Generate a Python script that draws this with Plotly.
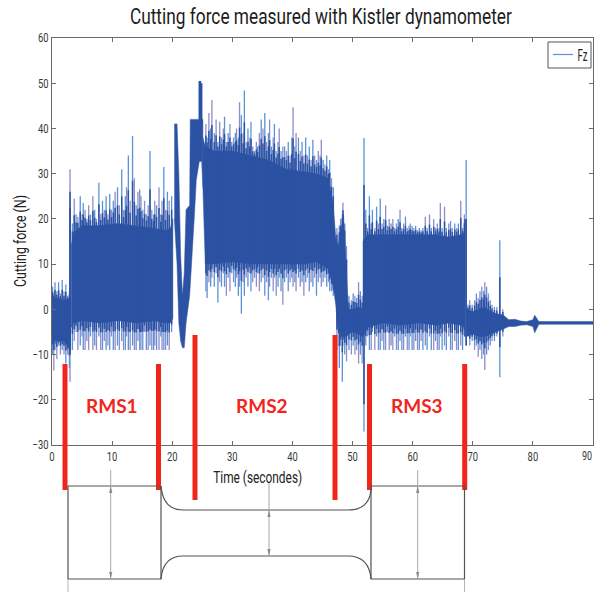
import json
import numpy as np
import plotly.graph_objects as go

W, H = 595, 592
L, R, T, B = 52, 593, 38, 445

TITLE = "Cutting force measured with Kistler dynamometer"
XLAB = "Time (secondes)"
YLAB = "Cutting force (N)"
X_TICKS = [0, 10, 20, 30, 40, 50, 60, 70, 80, 90]
X_LABELS = ["0", "10", "20", "30", "40", "50", "60", "70", "80", ""]
Y_TICKS = [-30, -20, -10, 0, 10, 20, 30, 40, 50, 60]

# Dense core of the signal (t, upper, lower), one block per region
core_a_t = [0, 1, 2, 3.1]
core_a_hi = [2.5, 2.5, 2, 2.5]
core_a_lo = [-6.5, -7, -7, -9]

core_b_t = [3.2, 3.6, 5, 8, 11, 14, 17, 19, 19.7, 20.1]
core_b_hi = [14, 17, 18.5, 18.5, 19, 18.5, 18, 17.5, 18, 20]
core_b_lo = [-4, -3, -2.5, -3, -2.5, -3, -2.5, -3, -3, -2]

core_c_t = [20.35, 20.8, 21.1, 21.4, 21.7, 22.0, 22.3, 22.9, 23.0, 23.7, 24.0, 24.5, 24.9, 25.1]
core_c_hi = [41, 41, 30, 12, 3, 8, 22, 23, 42, 42, 42, 42, 42, 42]
core_c_lo = [20, 10, -3, -7, -8.5, -8.5, -3, 3, 3.8, 21, 28.6, 32.7, 32.7, 27]

core_d_t = [25.1, 25.5, 27, 30, 33, 36, 39, 42, 44, 46, 46.8, 47.2, 47.6, 48.0, 48.5, 49.0, 49.3, 50, 51, 51.7]
core_d_hi = [38, 36, 35, 35, 34, 33, 31, 30.5, 30, 29, 23, 16, 14, 17, 21, 8, 0, 0, 0.5, 0]
core_d_lo = [27, 10, 10, 10.5, 10, 10, 10, 10, 10.5, 9, 5, 1, -5, -6, -6, -6, -5.5, -5, -5.5, -6]

core_e_t = [51.7, 52.5, 55, 58, 61, 64, 66, 68, 68.6]
core_e_hi = [15, 16.5, 16.5, 16.5, 16.5, 16.5, 16, 16.5, 17]
core_e_lo = [-6, -4, -3, -3.5, -3, -3.5, -3, -3.5, -4]

core_f_t = [68.9, 70, 71, 72, 73, 74, 75, 76, 77, 78, 79, 80, 80.3, 81, 84, 90]
core_f_hi = [0, -0.5, 0, 0.5, -0.5, -1, -1.2, -2.3, -2.2, -2.6, -2.7, -2.3, -1.3, -2.7, -2.7, -2.7]
core_f_lo = [-6, -5.5, -6, -6, -5.5, -5, -4.4, -3.8, -3.8, -3.5, -3.4, -3.8, -5.2, -3.3, -3.3, -3.3]

# Individual excursions beyond the core
s0_t = [0.1, 0.3, 0.5, 0.8, 1.1, 1.4, 1.7, 2.0, 2.3, 2.6, 2.9]
s0_hi = [5, 3.5, 6, 4, 6, 3.5, 6.5, 4, 5.5, 3, 4]
s0_lo = [-10, -13.5, -9, -11, -8, -10, -9, -10, -12, -10, -13]

s1_t = [3.0, 3.4, 3.7, 4.0, 4.3, 4.7, 5.0, 5.2, 5.5, 5.8, 6.1, 6.4, 6.8, 7.1, 7.4, 7.8, 8.1, 8.4, 8.7, 9.0,
        9.3, 9.6, 9.9, 10.2, 10.5, 10.9, 11.2, 11.6, 11.9, 12.2, 12.4, 12.7, 13.0, 13.4, 13.7, 14.0, 14.3, 14.6, 14.8, 15.1,
        15.4, 15.7, 16.0, 16.3, 16.6, 16.9, 17.1, 17.4, 17.8, 18.1, 18.3, 18.6, 18.9, 19.2, 19.5, 19.9]
s1_hi = [31, 19, 24.5, 21, 20.5, 25, 21, 23.5, 22, 20, 23, 21, 25, 22, 20, 28, 21, 24, 22, 25,
         21, 25.5, 22, 24, 26, 27, 23, 31, 22, 25, 27, 34, 24, 38.3, 29, 23, 26, 26.5, 25, 22,
         24, 21, 23, 35, 22, 21, 24, 23, 27, 21, 24, 31.5, 22, 26, 24, 25]
s1_lo = [-16, -9, -7, -5, -9, -8, -6, -9, -9, -7, -9, -6, -9, -8, -9, -6, -9, -9, -7, -9,
         -8, -9, -6, -9, -9, -8, -9, -7, -9, -9, -6, -9, -9, -8, -9, -9, -7, -9, -9, -9,
         -5, -9, -9, -8, -9, -9, -8, -9, -9, -6, -9, -9, -9, -8, -9, -5]

s3_t = [25.6, 25.8, 26.1, 26.4, 26.6, 27.0, 27.3, 27.6, 27.9, 28.2, 28.5, 28.7, 29.0, 29.3, 29.6, 29.9, 30.2, 30.5, 30.7, 31.0,
        31.2, 31.5, 31.8, 32.0, 32.3, 32.6, 32.9, 33.1, 33.4, 33.7, 34.0, 34.2, 34.5, 34.8, 35.1, 35.4, 35.7, 36.0, 36.2, 36.5,
        36.8, 37.0, 37.3, 37.6, 37.8, 38.1, 38.4, 38.7, 39.0, 39.3, 39.6, 39.9, 40.1, 40.4, 40.6, 41.0, 41.3, 41.6, 41.9, 42.2,
        42.5, 42.8, 43.1, 43.4, 43.7, 44.0, 44.3, 44.6, 44.8, 45.1, 45.4, 45.7, 46.0, 46.2, 46.5, 46.8]
s3_hi = [41, 38, 43.4, 40, 46.3, 39, 42, 37, 41.5, 38, 40, 42.6, 37, 39, 41, 37, 38, 39, 40, 38,
         45.8, 43, 39, 48.4, 37, 40, 38, 41.5, 36, 35, 37, 36, 39, 42, 40, 43.4, 37, 39, 42, 36,
         38, 41, 35, 37, 40, 35, 36, 36, 35, 37, 34, 38, 44.7, 36, 39, 38, 35, 37, 34, 38,
         34, 36, 33, 37.5, 34, 33, 35, 34, 37.5, 33, 32, 34, 31, 33, 29, 27]
s3_lo = [4, 2.5, 6, 5, 7, 5, 8, 1.5, 6, 5, 8, 5, 3, 7, 4, 8, 6, 5, 7, 3,
         5, -1, 6, 3, 7, 5, 8, 4, 6, 7, 5, 8, 4, 6, 7, 3, 6, 2, 5, 7,
         4, 7, 3, 5, 7, 4, 1, 6, 7, 4, 6, 7, 5, 6, 4, 7, 5, 6, 3, 6,
         7, 4, 6, 5, 7, 3, 6, 7, 5, 6, 7, 5, 6, 4, 4, 3]

s4_t = [47.4, 47.8, 48.0, 48.3, 48.4, 48.7, 49.0, 49.4, 49.8, 50.1, 50.4, 50.7, 51.0, 51.3, 51.6]
s4_hi = [18, 18.5, 20, 21, 23.6, 19, 14, 3, 2, 3.5, 3, 2.5, 6, 4, 3]
s4_lo = [-9, -13, -8, -16, -8, -10, -11.5, -9, -10, -8, -10, -9, -12, -10, -12]

s5_t = [52.2, 52.5, 52.8, 53.1, 53.3, 53.7, 54.0, 54.3, 54.6, 54.9, 55.2, 55.5, 55.8, 56.1, 56.4, 56.7, 57.0, 57.3, 57.6, 57.9,
        58.2, 58.5, 58.8, 59.1, 59.4, 59.6, 59.9, 60.2, 60.5, 60.8, 61.1, 61.4, 61.7, 62.1, 62.4, 62.8, 63.1, 63.5, 63.8, 64.1,
        64.4, 64.6, 64.9, 65.3, 65.6, 66.0, 66.3, 66.6, 67.0, 67.3, 67.6, 68.0, 68.3, 68.6]
s5_hi = [22, 18, 25, 19, 22, 18, 22.7, 19, 24.5, 19, 20, 23, 18.5, 20, 19, 20, 18, 19, 20, 22,
         18, 19, 20.5, 18, 18.5, 19, 18.5, 18, 18.5, 17.5, 18, 17.5, 18, 20.5, 18, 21, 18, 20, 18, 19,
         18, 23.5, 18, 22.7, 18, 19, 19.5, 18, 19, 18, 19, 24, 18, 21]
s5_lo = [-8, -6, -9, -9, -5, -9, -6, -9, -9, -7, -9, -9, -5, -9, -8, -9, -6, -9, -9, -7,
         -9, -9, -6, -9, -9, -6, -9, -9, -7, -9, -9, -7, -9, -8, -9, -6, -9, -9, -7, -9,
         -9, -6, -9, -8, -9, -6, -9, -9, -7, -9, -9, -8, -9, -6]

s6_t = [69.2, 69.5, 69.9, 70.3, 70.6, 70.9, 71.2, 71.5, 71.8, 72.0, 72.3, 72.6, 72.9, 73.2, 73.6, 74.0, 74.5, 75.0]
s6_hi = [1, 2, 1, 2, 3.5, 2.5, 4, 5, 4, 6, 5, 3.5, 2, 1, 0.5, 0.5, 15.3, 0]
s6_lo = [-6, -8, -7, -9, -8, -10.5, -9, -11, -10, -13.4, -10, -9, -8, -7, -7, -6, -15, -6]

# Solid, dark parts of the tallest excursions
d_t = [3.0, 24.5, 24.7, 24.9, 51.9, 68.9, 68.7]
d_hi = [26, 50.5, 50.5, 50, 27.5, 20, 20]
d_lo = [-10, 40, 40, 40, -21, -8, -6]

CORES = [(core_a_t, core_a_hi, core_a_lo), (core_b_t, core_b_hi, core_b_lo), (core_c_t, core_c_hi, core_c_lo),
         (core_d_t, core_d_hi, core_d_lo), (core_e_t, core_e_hi, core_e_lo), (core_f_t, core_f_hi, core_f_lo)]
SPIKES = [(s0_t, s0_hi, s0_lo), (s1_t, s1_hi, s1_lo), (s3_t, s3_hi, s3_lo),
          (s4_t, s4_hi, s4_lo), (s5_t, s5_hi, s5_lo), (s6_t, s6_hi, s6_lo)]
ISOLATED = [(51.9, 37.9, -27), (68.9, 33, -8)]
# which core block each spike block stands on
SPIKE_CORE = [0, 1, 3, 3, 4, 5]

DARK = "#2c52a3"
BLUE = "#5c93d6"
PURPLE = "#8f8cc9"
AXIS = "#6e6a62"
RED = "#f0261c"
FONT = "Roboto"


def px(x):
    return (x - L) / (R - L)


def py(y):
    return (B - y) / (B - T)


def zigzag(rows):
    xs, ys = [], []
    for t, hi, lo in rows:
        xs += [t, t, None]
        ys += [lo, hi, None]
    return xs, ys


fig = go.Figure()

rows = [r for block in SPIKES for r in zip(*block)]
x_b, y_b = zigzag(rows[0::2] + ISOLATED)
x_p, y_p = zigzag(rows[1::2])
fig.add_trace(go.Scatter(x=x_p, y=y_p, mode="lines", line=dict(color=PURPLE, width=1.3), showlegend=False, hoverinfo="skip"))
fig.add_trace(go.Scatter(x=x_b, y=y_b, mode="lines", line=dict(color=BLUE, width=1.3), showlegend=False, hoverinfo="skip"))

for ct, chi, clo in CORES:
    fig.add_trace(go.Scatter(x=ct + ct[::-1], y=chi + clo[::-1], mode="lines", fill="toself", fillcolor=DARK,
                             line=dict(color=DARK, width=0.5), showlegend=False, hoverinfo="skip"))

# the inner part of every excursion merges into the dark band
comb = []
for (st, shi, slo), idx in zip(SPIKES, SPIKE_CORE):
    ct, chi, clo = CORES[idx]
    top = np.interp(st, ct, chi)
    bot = np.interp(st, ct, clo)
    for t, h, l, a, b in zip(st, shi, slo, top, bot):
        comb.append((t, a + 0.5 * max(h - a, 0), b + 0.35 * min(l - b, 0)))
x_c, y_c = zigzag(comb)
fig.add_trace(go.Scatter(x=x_c, y=y_c, mode="lines", line=dict(color=DARK, width=1.5), showlegend=False, hoverinfo="skip"))

x_d, y_d = zigzag(zip(d_t, d_hi, d_lo))
fig.add_trace(go.Scatter(x=x_d, y=y_d, mode="lines", line=dict(color=DARK, width=1.5), showlegend=False, hoverinfo="skip"))

shapes = []
# red section markers (page pixels)
for xp, y0, y1 in [(65, 364, 490), (158.5, 364, 490), (195, 335, 500), (335, 335, 500), (369.5, 364, 490), (464.7, 364, 490)]:
    shapes.append(dict(type="rect", xref="paper", yref="paper", x0=px(xp - 2.5), x1=px(xp + 2.5), y0=py(y1), y1=py(y0),
                       fillcolor=RED, line=dict(width=0), layer="above"))


def P(x, y):
    return f"{px(x):.5f} {py(y):.5f}"


# specimen outline
outline = ("M " + P(161, 486) + " L " + P(68, 486) + " L " + P(68, 579) + " L " + P(161, 579) +
           " Q " + P(163, 556) + " " + P(183, 556) + " L " + P(348, 556) + " Q " + P(369, 556) + " " + P(371, 579) +
           " L " + P(464.5, 579) + " L " + P(464.5, 486) + " L " + P(371, 486) + " L " + P(371, 490) +
           " Q " + P(369, 510) + " " + P(348, 510) + " L " + P(183, 510) + " Q " + P(163, 510) + " " + P(161, 486))
inner = "M " + P(161, 486) + " L " + P(161, 579) + " M " + P(371, 490) + " L " + P(371, 579)
for d in (outline, inner):
    shapes.append(dict(type="path", xref="paper", yref="paper", path=d, line=dict(color="#57534e", width=1.2), layer="above"))

# dimension arrows
for xp, y_start, y_top, y_bot in [(110.7, 470, 486, 579), (269, 483, 510, 556), (417.7, 470, 486, 579)]:
    shapes.append(dict(type="line", xref="paper", yref="paper", x0=px(xp), x1=px(xp), y0=py(y_start), y1=py(y_bot),
                       line=dict(color="#a8a8a8", width=1), layer="above"))
    up = "M " + P(xp, y_top) + " L " + P(xp - 1.6, y_top + 7) + " L " + P(xp + 1.6, y_top + 7) + " Z"
    dn = "M " + P(xp, y_bot) + " L " + P(xp - 1.6, y_bot - 7) + " L " + P(xp + 1.6, y_bot - 7) + " Z"
    for d in (up, dn):
        shapes.append(dict(type="path", xref="paper", yref="paper", path=d, fillcolor="#8a8a8a", line=dict(width=0), layer="above"))
for xp in (68, 464.5):
    shapes.append(dict(type="line", xref="paper", yref="paper", x0=px(xp), x1=px(xp), y0=py(580), y1=py(592),
                       line=dict(color="#b5b5b5", width=1), layer="above"))

# legend box
shapes.append(dict(type="rect", xref="paper", yref="paper", x0=px(548), x1=px(591), y0=py(68), y1=py(42),
                   fillcolor="white", line=dict(color="#555555", width=1), layer="above"))
shapes.append(dict(type="line", xref="paper", yref="paper", x0=px(553), x1=px(573), y0=py(54.5), y1=py(54.5),
                   line=dict(color=BLUE, width=1.2), layer="above"))

annos = [
    dict(text=TITLE, x=px(321), y=py(17), font=dict(family=FONT, size=22, color="#1c1c1c")),
    dict(text=XLAB, x=px(257), y=py(477), font=dict(family=FONT, size=17, color="#222222")),
    dict(text=YLAB, x=px(20), y=py(241), textangle=-90, font=dict(family=FONT, size=17, color="#222222")),
    dict(text="<b>RMS1</b>", x=px(112), y=py(405), font=dict(family="Lato", size=19, color=RED)),
    dict(text="<b>RMS2</b>", x=px(262), y=py(405), font=dict(family="Lato", size=19, color=RED)),
    dict(text="<b>RMS3</b>", x=px(417), y=py(405), font=dict(family="Lato", size=19, color=RED)),
    dict(text="Fz", x=px(582), y=py(55.5), font=dict(family=FONT, size=16, color="#222222")),
    dict(text="90", x=px(587), y=py(455), font=dict(family=FONT, size=12.5, color="#333a33")),
]
for a in annos:
    a.update(xref="paper", yref="paper", showarrow=False, xanchor="center", yanchor="middle")

axis_style = dict(showgrid=False, zeroline=False, showline=True, mirror="ticks", linecolor=AXIS, linewidth=1,
                  ticks="inside", ticklen=4, tickcolor=AXIS,
                  tickfont=dict(family=FONT, size=12.5, color="#333a33"))

fig.update_layout(
    width=W, height=H, margin=dict(l=L, r=W - R, t=T, b=H - B, pad=0, autoexpand=False),
    paper_bgcolor="white", plot_bgcolor="white", shapes=shapes, annotations=annos, showlegend=False,
    xaxis=dict(range=[0, 90], tickvals=X_TICKS, ticktext=X_LABELS, **axis_style),
    yaxis=dict(range=[-30, 60], tickvals=Y_TICKS, **axis_style),
)

# The reference uses a tall, condensed face; squeeze the installed one to the measured text widths.
WIDTHS = {TITLE: 382, XLAB: 89, YLAB: 92, "Fz": 10, "90": 10}
post = """
document.body.style.margin='0';document.body.style.overflow='hidden';
var W=%s;
document.querySelectorAll('.annotation-text').forEach(function(t){
  var w=W[t.textContent]; if(w){t.setAttribute('textLength',w);t.setAttribute('lengthAdjust','spacingAndGlyphs');}
});
document.querySelectorAll('.xtick text, .ytick text').forEach(function(t){
  t.setAttribute('textLength',t.getComputedTextLength()*0.75);t.setAttribute('lengthAdjust','spacingAndGlyphs');
});
""" % json.dumps(WIDTHS)

fig.write_html("out.html", config={"displayModeBar": False}, post_script=post)
